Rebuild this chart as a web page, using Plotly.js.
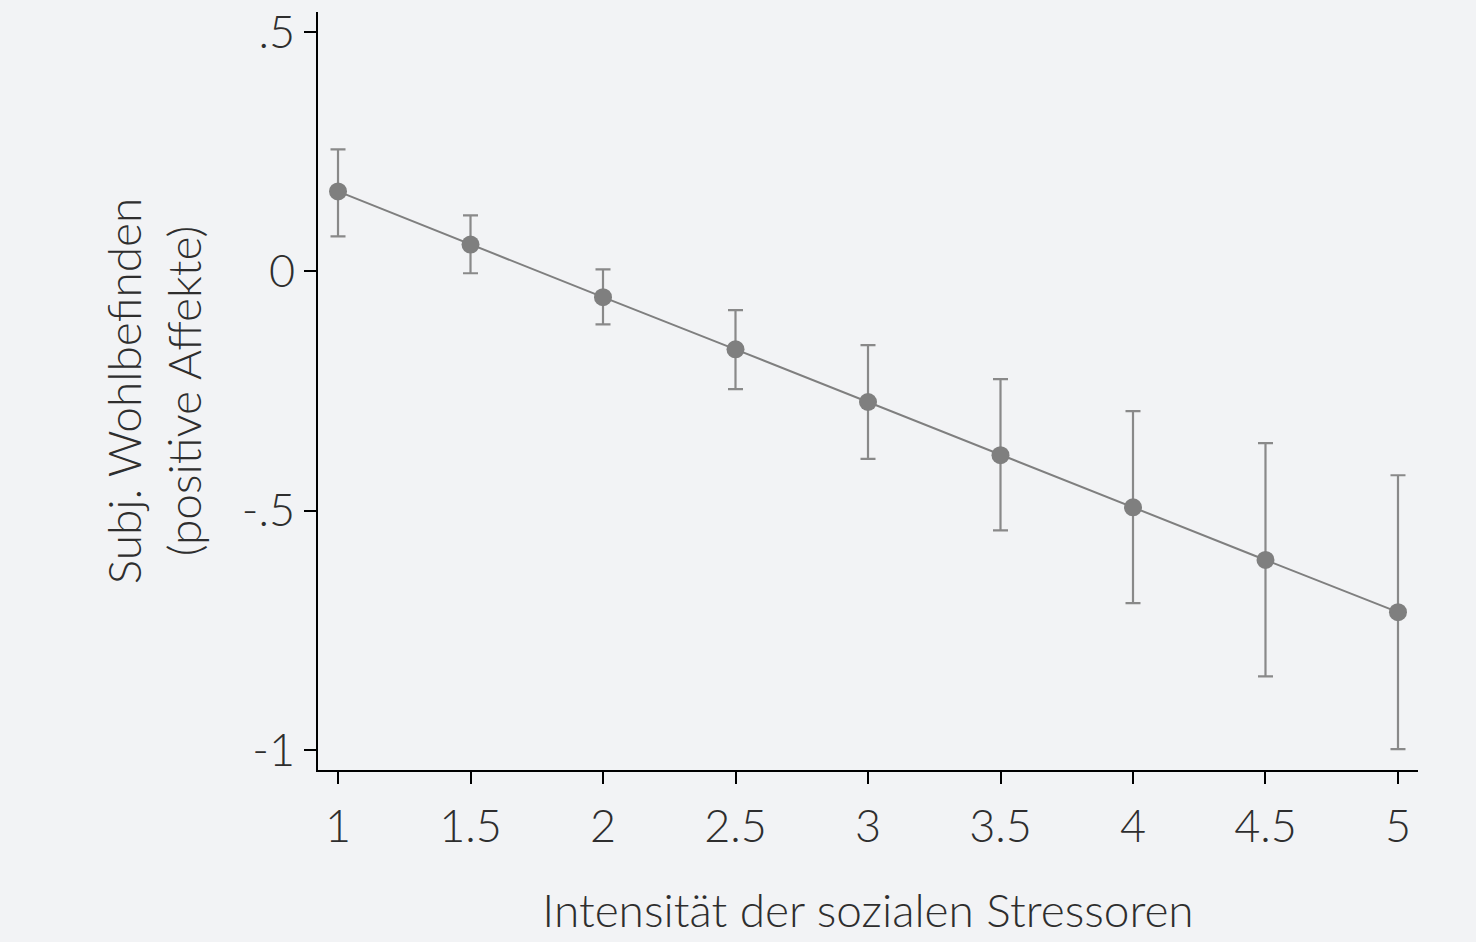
<!DOCTYPE html>
<html><head><meta charset="utf-8">
<script src="https://cdn.plot.ly/plotly-3.0.1.min.js"></script>
<style>html,body{margin:0;padding:0;background:#f2f3f5;}</style>
</head><body>
<div id="chart" style="width:1476px;height:942px;"></div>
<script>
const xValues = [1, 1.5, 2, 2.5, 3, 3.5, 4, 4.5, 5];
const yValues = [0.167, 0.056, -0.054, -0.163, -0.273, -0.384, -0.493, -0.603, -0.712];
const ciUpper = [0.255, 0.117, 0.004, -0.081, -0.154, -0.225, -0.292, -0.359, -0.426];
const ciLower = [0.073, -0.004, -0.111, -0.246, -0.392, -0.541, -0.693, -0.846, -0.998];
const xTickVals = [1, 1.5, 2, 2.5, 3, 3.5, 4, 4.5, 5];
const xTickText = ['1', '1.5', '2', '2.5', '3', '3.5', '4', '4.5', '5'];
const yTickVals = [0.5, 0, -0.5, -1];
const yTickText = ['.5', '0', '-.5', '-1'];

const errPlus = yValues.map((v, i) => ciUpper[i] - v);
const errMinus = yValues.map((v, i) => v - ciLower[i]);

const font = {family: 'Lato, "Liberation Sans", sans-serif', weight: 300, color: '#2e2e2e'};

const trace = {
  x: xValues, y: yValues, type: 'scatter', mode: 'lines+markers',
  line: {color: '#7f7f7f', width: 2},
  marker: {color: '#7f7f7f', size: 18},
  error_y: {type: 'data', symmetric: false, array: errPlus, arrayminus: errMinus,
            color: '#898989', thickness: 2.2, width: 7.5},
  hoverinfo: 'none'
};

const layout = {
  width: 1476, height: 942,
  paper_bgcolor: '#f2f3f5', plot_bgcolor: '#f2f3f5',
  margin: {l: 318, r: 58, t: 12, b: 172},
  showlegend: false,
  font: font,
  xaxis: {
    range: [0.9245, 5.0755], tickvals: xTickVals, ticktext: xTickText,
    showgrid: false, zeroline: false, showline: true, linecolor: '#000', linewidth: 2,
    ticks: 'outside', ticklen: 12, tickwidth: 2, tickcolor: '#000', ticklabelstandoff: 4,
    tickfont: Object.assign({}, font, {size: 45}),
    title: {text: 'Intensität der sozialen Stressoren', font: Object.assign({}, font, {size: 46}), standoff: 44}
  },
  yaxis: {
    range: [-1.0418, 0.5418], tickvals: yTickVals, ticktext: yTickText,
    showgrid: false, zeroline: false, showline: true, linecolor: '#000', linewidth: 2,
    ticks: 'outside', ticklen: 12, tickwidth: 2, tickcolor: '#000',
    tickfont: Object.assign({}, font, {size: 45}),
    title: {text: 'Subj. Wohlbefinden<br>(positive Affekte)', font: Object.assign({}, font, {size: 46}), standoff: 26}
  }
};

Plotly.newPlot('chart', [trace], layout, {displayModeBar: false, staticPlot: true});
</script>
</body></html>
